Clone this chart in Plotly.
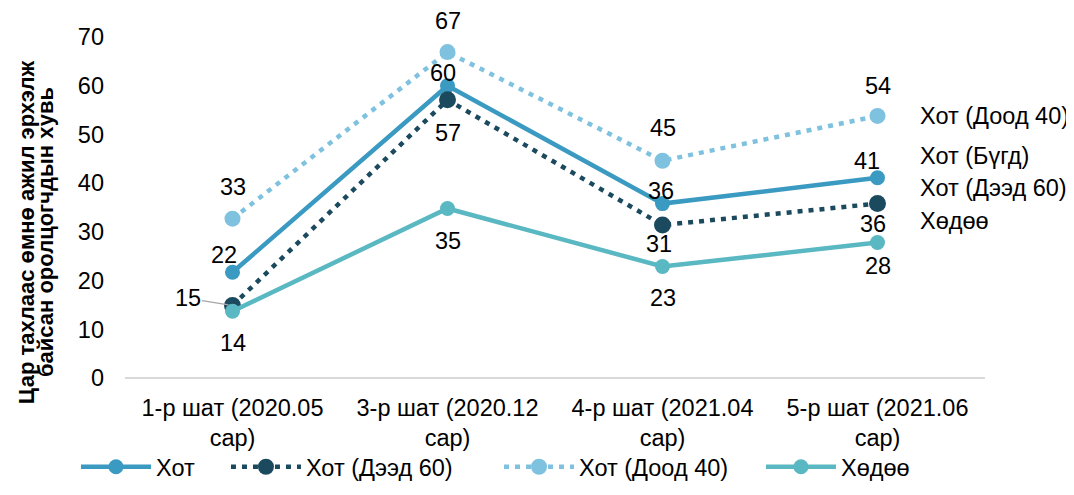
import plotly.graph_objects as go

categories = ["1-р шат (2020.05<br>сар)", "3-р шат (2020.12<br>сар)",
              "4-р шат (2021.04<br>сар)", "5-р шат (2021.06<br>сар)"]
series_names = ["Хот", "Хот (Дээд 60)", "Хот (Доод 40)", "Хөдөө"]
hot = [21.7, 60.0, 35.8, 41.1]
hot_deed60 = [14.9, 57.1, 31.4, 35.8]
hot_dood40 = [32.7, 66.9, 44.6, 53.8]
khudoo = [13.7, 34.8, 22.9, 27.8]
right_labels = ["Хот (Доод 40)", "Хот (Бүгд)", "Хот (Дээд 60)", "Хөдөө"]
right_label_y = [53.8, 45.6, 39.0, 32.2]
title_lines = ["Цар тахлаас өмнө ажил эрхэлж", "байсан оролцогчдын хувь"]

values = [hot, hot_deed60, hot_dood40, khudoo]
colors = ["#3A9AC1", "#1B4A5F", "#7FC2DF", "#5AB8C2"]
dashes = ["solid", "5px,6px", "5px,6px", "solid"]
widths = [4.5, 4.5, 4.5, 4.5]
msizes = [15, 17, 16, 15]
legend_ids = ["legend", "legend2", "legend3", "legend4"]
legend_x = [-0.057, 0.1174, 0.4349, 0.7395]
# label offsets in pixels (dx, dy up-positive); None = leader-line annotation
offsets = [
    [(-9, 17), (-5, 13), (-2, 13), (-11, 17)],
    [None, (0, -33), (-4, -19), (-5, -20)],
    [(0, 32), (0, 31), (0, 33), (0, 30)],
    [(0, -32), (0, -33), (0, -32), (0, -23)],
]

FONT = "Liberation Sans, Arial, sans-serif"
FS = 23.5
fig = go.Figure()
for name, vals, c, d, w, ms, lg in zip(series_names, values, colors, dashes, widths, msizes, legend_ids):
    fig.add_trace(go.Scatter(
        x=categories, y=vals, name=name, mode="lines+markers",
        line=dict(color=c, width=w, dash=d),
        marker=dict(color=c, size=ms),
        cliponaxis=False, legend=lg,
    ))

annotations = []
for vals, offs in zip(values, offsets):
    for cat, v, o in zip(categories, vals, offs):
        if o is None:
            annotations.append(dict(
                x=cat, y=v, xref="x", yref="y", text=f"{v:.0f}",
                showarrow=True, arrowhead=0, arrowwidth=1.2, arrowcolor="#A6A6A6",
                ax=-45, ay=-7, standoff=4,
                font=dict(size=FS, color="#000000", family=FONT)))
        else:
            annotations.append(dict(
                x=cat, y=v, xref="x", yref="y", text=f"{v:.0f}",
                showarrow=False, xshift=o[0], yshift=o[1],
                font=dict(size=FS, color="#000000", family=FONT)))

for lbl, ly in zip(right_labels, right_label_y):
    annotations.append(dict(
        x=0.922, y=ly, xref="paper", yref="y", text=lbl, showarrow=False,
        xanchor="left", yanchor="middle",
        font=dict(size=FS, color="#000000", family=FONT)))

for tl, tx in zip(title_lines, [-0.115, -0.093]):
    annotations.append(dict(
        x=tx, y=0.428, xref="paper", yref="paper",
        text=f"<b>{tl}</b>",
        textangle=-90, showarrow=False, xanchor="center", yanchor="middle",
        font=dict(size=22, color="#000000", family=FONT)))

legends = {}
for lg, lx in zip(legend_ids, legend_x):
    legends[lg] = dict(orientation="h", x=lx, xanchor="left", y=-0.261, yanchor="middle",
                       font=dict(size=FS, family=FONT), itemwidth=70,
                       bgcolor="rgba(0,0,0,0)")

# page body has an 8px margin, so the figure is 8px smaller and margins shifted
fig.update_layout(
    width=1066, height=487,
    margin=dict(l=117, r=89, t=29, b=117, autoexpand=False),
    paper_bgcolor="white", plot_bgcolor="white",
    font=dict(family=FONT, size=FS, color="#000000"),
    showlegend=True,
    annotations=annotations,
    xaxis=dict(showgrid=False, zeroline=False, showline=False, ticks="",
               tickfont=dict(size=FS), range=[-0.5, 3.5], ticklabelstandoff=13),
    yaxis=dict(range=[0, 70], dtick=10, showgrid=False, zeroline=True,
               zerolinecolor="#D9D9D9", zerolinewidth=1.5, showline=False,
               tickfont=dict(size=FS), ticklabelstandoff=20),
    **legends,
)

fig.write_html("out.html")
